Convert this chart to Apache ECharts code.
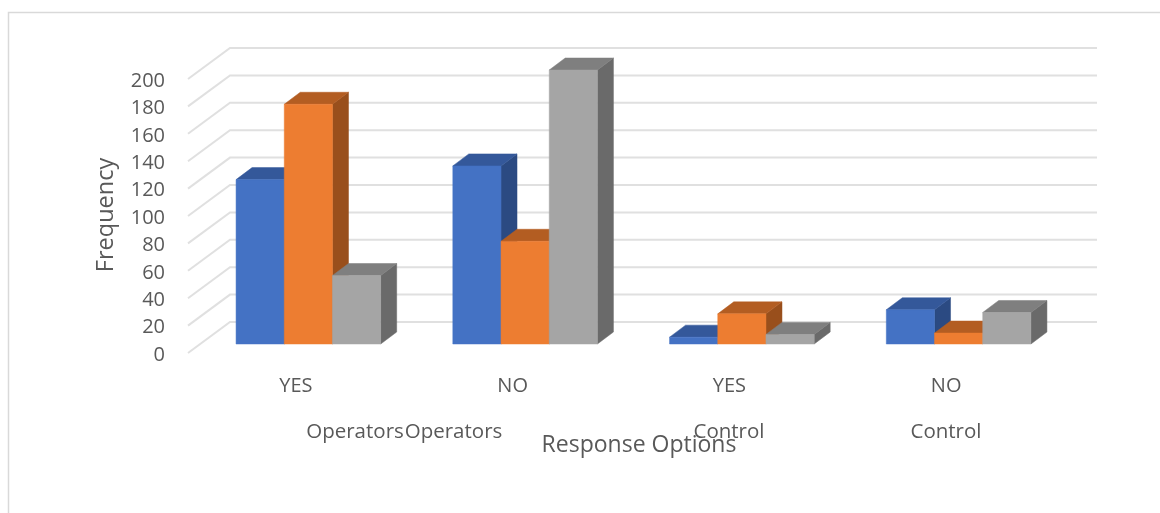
<!DOCTYPE html>
<html>
<head>
<meta charset="utf-8">
<style>html,body{margin:0;padding:0;background:#fff}#c{width:1160px;height:513px}</style>
<script src="https://cdn.jsdelivr.net/npm/echarts@6/dist/echarts.min.js"></script>
</head>
<body>
<div id="c"></div>
<script>
var categories = ['YES', 'NO', 'YES', 'NO'];
var groupLabels = ['Operators', 'Operators', 'Control', 'Control'];
var seriesBlue = [120, 130, 5, 25];
var seriesOrange = [175, 75, 22, 8];
var seriesGray = [50, 200, 7, 23];
var yTicks = [0, 20, 40, 60, 80, 100, 120, 140, 160, 180, 200];

var FONT = '"Open Sans", sans-serif', TXT = '#595959';
var DX = 16, DY = -12;            // bar depth
var WALL_F = [-12, 9], WALL_B = [30, -22]; // wall offsets from the bar plane
var BAR_FRAC = 0.2224;

function poly(pts, fill) {
  return {type: 'polygon', shape: {points: pts}, style: {fill: fill, stroke: fill, lineWidth: 0.5}};
}
function barSeries(name, values, idx, front, top, side) {
  return {
    name: name, type: 'custom', clip: false, z: 3 + idx,
    encode: {x: 0, y: 1},
    data: values.map(function (v, i) { return [i, v]; }),
    renderItem: function (params, api) {
      var base = api.coord([api.value(0), 0]);
      var tip = api.coord([api.value(0), api.value(1)]);
      var w = api.size([1, 0])[0] * BAR_FRAC;
      var x0 = base[0] + (idx - 1.5) * w, x1 = x0 + w, y0 = base[1], y1 = tip[1];
      return {type: 'group', children: [
        poly([[x1, y1], [x1 + DX, y1 + DY], [x1 + DX, y0 + DY], [x1, y0]], side),
        poly([[x0, y1], [x0 + DX, y1 + DY], [x1 + DX, y1 + DY], [x1, y1]], top),
        poly([[x0, y0], [x1, y0], [x1, y1], [x0, y1]], front)
      ]};
    }
  };
}
var gridSeries = {
  name: 'grid', type: 'custom', clip: false, silent: true, z: 1,
  encode: {y: 0},
  data: yTicks.map(function (v) { return [v]; }),
  renderItem: function (params, api) {
    var cs = params.coordSys;
    var y = api.coord([0, api.value(0)])[1];
    return {type: 'polyline', shape: {points: [
      [cs.x + WALL_F[0], y + WALL_F[1]],
      [cs.x + WALL_B[0], y + WALL_B[1]],
      [cs.x + cs.width + WALL_B[0], y + WALL_B[1]]
    ]}, style: {fill: null, stroke: '#e0e0e0', lineWidth: 2}};
  }
};
var groupX = [355, 453.5, 729, 946];
var chart = echarts.init(document.getElementById('c'), null, {renderer: 'canvas'});
chart.setOption({
  animation: false,
  backgroundColor: '#fff',
  grid: {left: 200, right: 93, top: 70, bottom: 169},
  xAxis: {
    type: 'category', data: categories,
    axisLine: {show: false}, axisTick: {show: false}, splitLine: {show: false},
    axisLabel: {interval: 0, color: TXT, fontFamily: FONT, fontSize: 20, margin: 32, padding: [0, 25, 0, 0]},
    name: 'Response Options', nameLocation: 'middle', nameGap: 90,
    nameTextStyle: {color: TXT, fontFamily: FONT, fontSize: 23, padding: [0, 0, 0, 11]}
  },
  yAxis: {
    type: 'value', min: 0, max: 200, interval: 20,
    axisLine: {show: false}, axisTick: {show: false}, splitLine: {show: false},
    axisLabel: {color: TXT, fontFamily: FONT, fontSize: 20, lineHeight: 22, margin: 35, verticalAlign: 'top'},
    name: 'Frequency', nameLocation: 'middle', nameGap: 82,
    nameTextStyle: {color: TXT, fontFamily: FONT, fontSize: 23.5, padding: [0, 16, 0, 0]}
  },
  graphic: [{
    type: 'rect', silent: true, z: 0,
    shape: {x: 8.5, y: 12.5, width: 1300, height: 700},
    style: {fill: null, stroke: '#d9d9d9', lineWidth: 1.5}
  }].concat(groupLabels.map(function (t, i) {
    return {type: 'text', x: groupX[i], y: 432, silent: true, z: 10,
      style: {text: t, fill: TXT, font: '20.5px ' + FONT, textAlign: 'center', textVerticalAlign: 'middle'}};
  })),
  series: [
    gridSeries,
    barSeries('Blue', seriesBlue, 0, '#4472C4', '#34589A', '#2B4A82'),
    barSeries('Orange', seriesOrange, 1, '#ED7D31', '#B35D22', '#994F1C'),
    barSeries('Gray', seriesGray, 2, '#A5A5A5', '#7F7F7F', '#6A6A6A')
  ]
});
</script>
</body>
</html>
